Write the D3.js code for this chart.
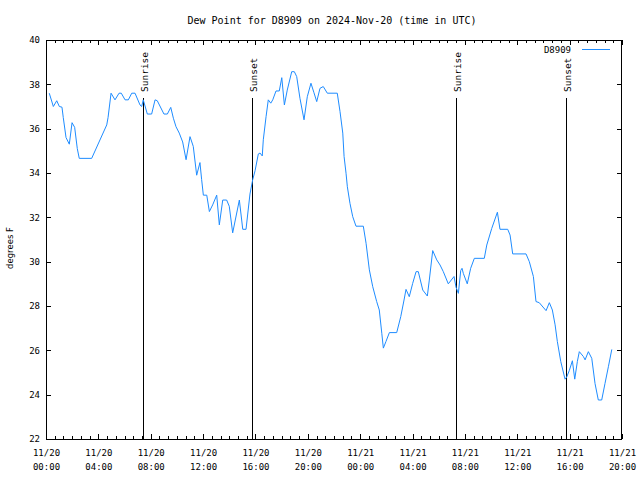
<!DOCTYPE html>
<html>
<head>
<meta charset="utf-8">
<script src="https://cdn.jsdelivr.net/npm/d3@7"></script>
<style>
  html, body { margin: 0; padding: 0; background: #fff; }
  svg { display: block; }
  text { fill: #000; }
</style>
</head>
<body>
<svg id="chart" width="640" height="480"></svg>
<script>
// ---- data (hours since 2024-11-20 00:00 UTC, dew point in °F) ----
const hours = [
  0.25, 0.56, 0.82, 1.02, 1.22, 1.32, 1.53, 1.78, 1.99, 2.19, 2.39, 2.54, 3.49, 4.64, 4.74, 4.97,
  5.27, 5.58, 5.75, 6.04, 6.29, 6.55, 6.80, 7.18, 7.31, 7.43, 7.74, 8.07, 8.33, 8.50, 9.01, 9.27,
  9.53, 9.73, 9.93, 10.18, 10.44, 10.70, 11.00, 11.25, 11.51, 11.76, 11.89, 12.02, 12.28, 12.48,
  12.73, 13.04, 13.24, 13.50, 13.80, 14.00, 14.26, 14.77, 15.03, 15.28, 15.58, 15.79, 15.97, 16.22,
  16.35, 16.52, 16.60, 16.81, 16.98, 17.17, 17.32, 17.57, 17.82, 18.01, 18.21, 18.43, 18.77, 18.97,
  19.15, 19.40, 19.71, 19.96, 20.24, 20.47, 20.68, 20.93, 21.18, 21.49, 22.25, 22.46, 22.67, 22.77,
  22.92, 23.02, 23.22, 23.43, 23.68, 24.24, 24.45, 24.70, 24.96, 25.26, 25.46, 25.65, 25.77, 25.97,
  26.23, 26.79, 27.10, 27.35, 27.50, 27.75, 28.01, 28.27, 28.44, 28.78, 29.13, 29.28, 29.54, 29.85,
  30.10, 30.35, 30.73, 31.17, 31.32, 31.50, 31.68, 31.78, 31.88, 32.18, 32.44, 32.72, 33.48, 33.67,
  34.05, 34.48, 34.68, 35.27, 35.45, 35.65, 36.67, 36.92, 37.23, 37.43, 37.68, 38.20, 38.45, 38.68,
  38.89, 39.06, 39.32, 39.57, 39.65, 39.78, 39.98, 40.21, 40.39, 40.59, 40.74, 41.05, 41.18, 41.43,
  41.69, 41.94, 42.19, 42.45, 42.70, 42.96, 43.22
];
const dewF = [
  37.6, 37.0, 37.26, 37.0, 36.97, 36.5, 35.6, 35.3, 36.27, 36.06, 35.1, 34.66, 34.66, 36.17, 36.5, 37.6,
  37.3, 37.6, 37.6, 37.3, 37.3, 37.6, 37.6, 37.07, 37.0, 37.3, 36.66, 36.66, 37.3, 37.26, 36.66, 36.66,
  36.96, 36.47, 36.09, 35.8, 35.4, 34.6, 35.64, 35.2, 33.9, 34.47, 33.7, 33.0, 33.0, 32.26,
  32.56, 33.0, 31.66, 32.78, 32.78, 32.5, 31.3, 32.78, 31.46, 31.46, 33.05, 33.7, 34.1, 34.86,
  34.9, 34.77, 35.5, 36.54, 37.3, 37.15, 37.3, 37.7, 37.7, 38.3, 37.07, 37.74, 38.57, 38.57,
  38.35, 37.37, 36.4, 37.44, 38.05, 37.62, 37.22, 37.82, 37.9, 37.6, 37.6, 36.77, 35.8, 34.74,
  33.99, 33.38, 32.63, 32.03, 31.6, 31.6, 30.83, 29.63, 28.87, 28.2, 27.82, 26.77, 26.1, 26.4,
  26.8, 26.8, 27.52, 28.27, 28.75, 28.42, 29.02, 29.55, 29.55, 28.72, 28.45, 29.17, 30.5, 30.08,
  29.85, 29.55, 29.0, 29.33, 28.85, 28.57, 29.6, 29.7, 29.47, 29.0, 29.7, 30.15, 30.15, 30.75,
  31.5, 32.23, 31.46, 31.46, 31.2, 30.35, 30.35, 30.0, 29.33, 28.2, 28.15, 27.79, 28.15, 27.82,
  27.15, 26.4, 25.5, 24.89, 24.7, 24.8, 25.1, 25.53, 24.7, 25.5, 25.94, 25.72, 25.57, 25.94,
  25.64, 24.5, 23.76, 23.76, 24.5, 25.26, 26.04
];
// sun events (hours since start) and their labels
const sunHours = [7.38, 15.72, 31.35, 39.70];
const sunLabels = ["Sunrise", "Sunset", "Sunrise", "Sunset"];
// axis ticks
const yTicks = [22, 24, 26, 28, 30, 32, 34, 36, 38, 40];
const xTickHours = [0, 4, 8, 12, 16, 20, 24, 28, 32, 36, 40, 44];
const seriesName = "D8909";
const titleText = "Dew Point for D8909 on 2024-Nov-20 (time in UTC)";
const yLabel = "degrees F";

// ---- drawing ----
const base = Date.UTC(2024, 10, 20, 0, 0, 0);
const toDate = h => new Date(base + h * 3600 * 1000);
const data = hours.map((h, i) => ({ t: toDate(h), v: dewF[i] }));

const L = 46, R = 622, T = 40, B = 439;
const lineColor = "#1e8cff";
const mono = "'DejaVu Sans Mono', monospace";

const svg = d3.select("#chart");
const x = d3.scaleUtc().domain([toDate(0), toDate(44)]).range([L, R]);
const y = d3.scaleLinear().domain([22, 40]).range([B, T]);

// minor x ticks (every 40 min)
const minorVals = d3.range(0, 44.001, 2 / 3).map(toDate);
const fmtDay = d3.utcFormat("%m/%d"), fmtHour = d3.utcFormat("%H:%M");

function styleAxis(g) {
  g.select(".domain").remove();
  g.selectAll("line").attr("stroke", "#000").attr("shape-rendering", "crispEdges");
  g.selectAll("text").attr("font-family", mono).attr("font-size", 9).attr("fill", "#000");
}

svg.append("g").attr("transform", `translate(0,${B})`)
  .call(d3.axisBottom(x).tickValues(minorVals).tickSizeInner(-3).tickSizeOuter(0).tickFormat(""))
  .call(styleAxis);
svg.append("g").attr("transform", `translate(0,${T})`)
  .call(d3.axisTop(x).tickValues(minorVals).tickSizeInner(-3).tickSizeOuter(0).tickFormat(""))
  .call(styleAxis);

const xb = svg.append("g").attr("transform", `translate(0,${B})`)
  .call(d3.axisBottom(x).tickValues(xTickHours.map(toDate)).tickSizeInner(-5).tickSizeOuter(0).tickFormat(d => fmtDay(d)))
  .call(styleAxis);
xb.selectAll(".tick text").each(function(d) {
  const t = d3.select(this);
  t.text(null).attr("y", null).attr("dy", null);
  t.append("tspan").attr("x", 0).attr("y", 17).text(fmtDay(d));
  t.append("tspan").attr("x", 0).attr("y", 31).text(fmtHour(d));
});
svg.append("g").attr("transform", `translate(0,${T})`)
  .call(d3.axisTop(x).tickValues(xTickHours.map(toDate)).tickSizeInner(-5).tickSizeOuter(0).tickFormat(""))
  .call(styleAxis);

svg.append("g").attr("transform", `translate(${L},0)`)
  .call(d3.axisLeft(y).tickValues(yTicks).tickSizeInner(-5).tickSizeOuter(0).tickPadding(6).tickFormat(d3.format("d")))
  .call(styleAxis);
svg.append("g").attr("transform", `translate(${R},0)`)
  .call(d3.axisRight(y).tickValues(yTicks).tickSizeInner(-5).tickSizeOuter(0).tickFormat(""))
  .call(styleAxis);

// frame
svg.append("rect")
  .attr("x", L + 0.5).attr("y", T + 0.5).attr("width", R - L - 1).attr("height", B - T)
  .attr("fill", "none").attr("stroke", "#000").attr("shape-rendering", "crispEdges");

// sunrise / sunset lines
const sun = svg.append("g");
sunHours.forEach((h, i) => {
  const sx = Math.round(x(toDate(h))) + 0.5;
  sun.append("line").attr("x1", sx).attr("x2", sx).attr("y1", 98).attr("y2", B)
    .attr("stroke", "#000").attr("shape-rendering", "crispEdges");
  sun.append("text").attr("transform", `translate(${sx + 4.5},92) rotate(-90)`)
    .attr("font-family", mono).attr("font-size", 9.5).attr("text-anchor", "start")
    .text(sunLabels[i]);
});

// data line
svg.append("path").datum(data)
  .attr("fill", "none").attr("stroke", lineColor).attr("stroke-width", 1)
  .attr("d", d3.line().x(d => x(d.t)).y(d => y(d.v)));

// legend
svg.append("text").attr("x", 571).attr("y", 52.5).attr("text-anchor", "end")
  .attr("font-family", mono).attr("font-size", 9).text(seriesName);
svg.append("line").attr("x1", 582).attr("x2", 610).attr("y1", 49.5).attr("y2", 49.5)
  .attr("stroke", lineColor).attr("shape-rendering", "crispEdges");

// title
svg.append("text").attr("x", 332).attr("y", 24).attr("text-anchor", "middle")
  .attr("font-family", mono).attr("font-size", 10).text(titleText);

// y label
svg.append("text").attr("transform", "translate(13,248) rotate(-90)")
  .attr("text-anchor", "middle").attr("font-family", "'DejaVu Sans', sans-serif")
  .attr("font-size", 8.5).text(yLabel);
</script>
</body>
</html>
